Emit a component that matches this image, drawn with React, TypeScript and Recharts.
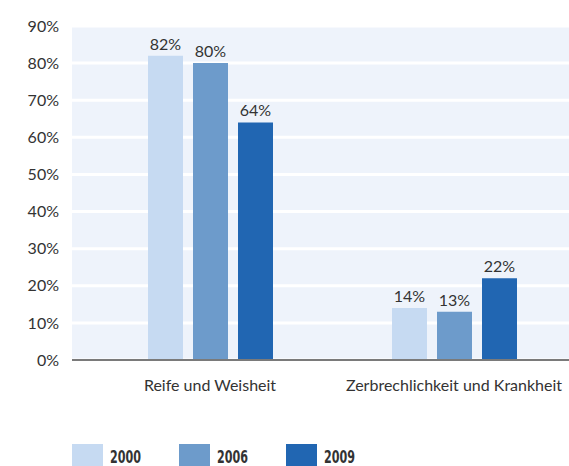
import { BarChart, Bar, XAxis, YAxis, CartesianGrid, Legend, LabelList } from "recharts";

const categories = ["Reife und Weisheit", "Zerbrechlichkeit und Krankheit"];
const series2000 = [82, 14];
const series2006 = [80, 13];
const series2009 = [64, 22];
const yTicks = [0, 10, 20, 30, 40, 50, 60, 70, 80, 90];

const data = categories.map((name, i) => ({
  name,
  y2000: series2000[i],
  y2006: series2006[i],
  y2009: series2009[i],
}));

const SERIES = [
  { key: "y2000", label: "2000", color: "#c6daf2" },
  { key: "y2006", label: "2006", color: "#6d9bcb" },
  { key: "y2009", label: "2009", color: "#2166b2" },
];

const FONT = "Lato, 'Open Sans', sans-serif";

const LegendBox = () => (
  <svg width={330} height={22} style={{ display: "block" }}>
    {SERIES.map((s, i) => (
      <g key={s.key} transform={`translate(${i * 107}, 0)`}>
        <rect x={0} y={0} width={31} height={22} fill={s.color} />
        <text
          x={38}
          y={19}
          fontSize={18}
          fontWeight="bold"
          fill="#333"
          fontFamily="'DejaVu Sans Condensed', 'DejaVu Sans', sans-serif"
          textLength={31}
          lengthAdjust="spacingAndGlyphs"
        >
          {s.label}
        </text>
      </g>
    ))}
  </svg>
);

export default function App() {
  return (
    <div style={{ position: "fixed", left: 0, top: 0, width: 569, height: 466, overflow: "hidden", background: "#fff" }}>
      <BarChart
        width={576}
        height={466}
        data={data}
        margin={{ top: 26, right: 0, left: 0, bottom: 0 }}
        barSize={35}
        barGap={10}
      >
        <CartesianGrid vertical={false} stroke="#ffffff" strokeWidth={3} fill="#eef3fb" />
        <XAxis
          dataKey="name"
          tickLine={false}
          axisLine={{ stroke: "#7a7a7a", strokeWidth: 2 }}
          padding={{ left: 16, right: 0 }}
          height={84}
          tickMargin={14}
          tick={{ fontSize: 16, fill: "#333", fontFamily: FONT }}
          interval={0}
        />
        <YAxis
          width={72}
          domain={[0, 90]}
          ticks={yTicks}
          tickFormatter={(v: number) => `${v}%`}
          axisLine={false}
          tickLine={false}
          tickMargin={7}
          tick={{ fontSize: 16, fill: "#333", fontFamily: FONT }}
          interval={0}
        />
        <Legend
          content={<LegendBox />}
          verticalAlign="bottom"
          wrapperStyle={{ position: "absolute", left: 72, top: 444, width: 330, height: 22 }}
        />
        {SERIES.map((s) => (
          <Bar key={s.key} dataKey={s.key} name={s.label} fill={s.color} isAnimationActive={false}>
            <LabelList
              dataKey={s.key}
              position="top"
              offset={6}
              formatter={(v: any) => `${v}%`}
              style={{ fontSize: 16, fill: "#333", fontFamily: FONT }}
            />
          </Bar>
        ))}
      </BarChart>
    </div>
  );
}
